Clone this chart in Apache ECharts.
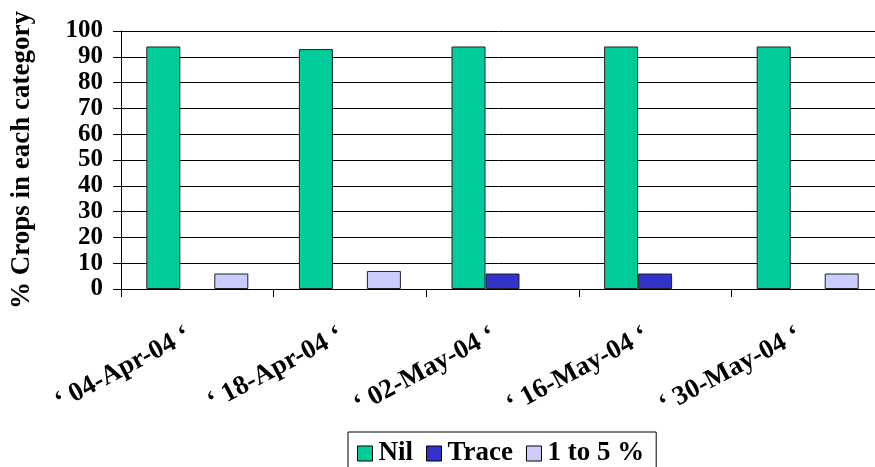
<!DOCTYPE html>
<html>
<head>
<meta charset="utf-8">
<script src="https://cdn.jsdelivr.net/npm/echarts@6/dist/echarts.min.js"></script>
<style>
html,body{margin:0;padding:0;background:#fff;}
#chart{width:875px;height:467px;}
</style>
</head>
<body>
<div id="chart"></div>
<script>
var categories = ['‘ 04-Apr-04 ‘', '‘ 18-Apr-04 ‘', '‘ 02-May-04 ‘', '‘ 16-May-04 ‘', '‘ 30-May-04 ‘'];
var nilValues = [94, 93, 94, 94, 94];
var traceValues = [null, null, 6, 6, null];
var oneToFiveValues = [6, 7, null, null, 6];
var seriesNames = ['Nil', 'Trace', '1 to 5 %'];

var font = 'Liberation Serif, Times New Roman, serif';
var chart = echarts.init(document.getElementById('chart'), null, {renderer: 'canvas'});

function barSeries(name, data, color) {
  return {
    name: name,
    type: 'bar',
    data: data,
    barWidth: 34,
    barGap: '0%',
    itemStyle: {color: color, borderColor: '#222', borderWidth: 1},
    emphasis: {disabled: true},
    animation: false
  };
}

chart.setOption({
  animation: false,
  backgroundColor: '#fff',
  grid: {left: 121, top: 31, width: 763, height: 258, containLabel: false, outerBoundsMode: 'none'},
  legend: {
    left: 348, top: 432,
    orient: 'horizontal',
    itemWidth: 15, itemHeight: 15, itemGap: 13,
    padding: [8, 12, 8, 9],
    borderColor: '#000', borderWidth: 1,
    icon: 'rect',
    itemStyle: {borderColor: '#000', borderWidth: 1},
    textStyle: {fontFamily: font, fontWeight: 'bold', fontSize: 27, color: '#000', padding: [0, 0, 0, 1]},
    data: seriesNames
  },
  xAxis: {
    type: 'category',
    data: categories,
    boundaryGap: true,
    axisLine: {lineStyle: {color: '#000', width: 1}},
    axisTick: {show: true, interval: 0, length: 8, lineStyle: {color: '#000'}},
    axisLabel: {
      interval: 0, rotate: 28, margin: 40,
      padding: [0, 10, 0, 0],
      fontFamily: font, fontWeight: 'bold', fontSize: 27, color: '#000'
    },
    splitLine: {show: false}
  },
  yAxis: {
    type: 'value',
    min: 0, max: 100, interval: 10,
    name: '% Crops in each category',
    nameLocation: 'middle',
    nameGap: 85,
    nameRotate: 90,
    nameTextStyle: {fontFamily: font, fontWeight: 'bold', fontSize: 27, color: '#000'},
    axisLine: {show: true, lineStyle: {color: '#000', width: 1}},
    axisTick: {show: true, length: 8, lineStyle: {color: '#000'}},
    axisLabel: {margin: 18, showMaxLabel: true, showMinLabel: true,
      fontFamily: font, fontWeight: 'bold', fontSize: 25, color: '#000'},
    splitLine: {show: true, lineStyle: {color: '#000', width: 1}}
  },
  series: [
    barSeries(seriesNames[0], nilValues, '#00CC99'),
    barSeries(seriesNames[1], traceValues, '#3333CC'),
    barSeries(seriesNames[2], oneToFiveValues, '#CCCCFF')
  ]
});
</script>
</body>
</html>
